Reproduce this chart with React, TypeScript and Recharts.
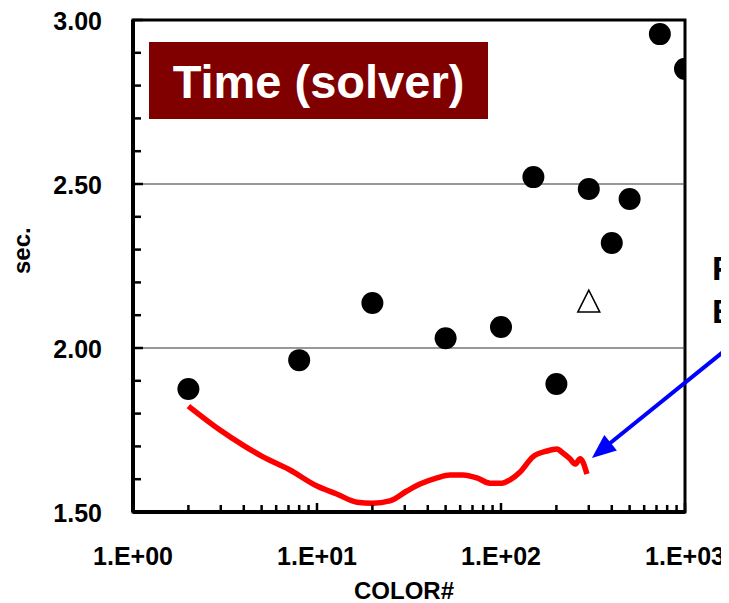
import React from "react";
import {
  ComposedChart,
  Scatter,
  Line,
  XAxis,
  YAxis,
  ReferenceLine,
  ReferenceArea,
} from "recharts";

const FONT = '"Liberation Sans", Arial, sans-serif';

// measured points (black circles)
const circleX = [2, 8, 20, 50, 100, 150, 200, 300, 400, 500, 730, 1000];
const circleY = [1.875, 1.963, 2.137, 2.03, 2.064, 2.521, 1.89, 2.485, 2.32, 2.454, 2.957, 2.851];

// open triangle
const triX = [300];
const triY = [2.14];

// red curve
const curveX = [2, 2.97, 3.96, 5.09, 7.13, 10, 12.8, 16.5, 20, 24.9, 30.8, 36.3, 44.9, 52.8, 62.1, 74, 87, 101, 112, 127, 149, 178, 201, 217, 237, 253, 269, 279, 293];
const curveY = [1.823, 1.75, 1.704, 1.668, 1.628, 1.579, 1.555, 1.53, 1.527, 1.534, 1.564, 1.585, 1.604, 1.613, 1.613, 1.604, 1.588, 1.588, 1.598, 1.622, 1.668, 1.686, 1.692, 1.68, 1.662, 1.646, 1.662, 1.652, 1.616];

// blue arrow: start (off the right edge) -> tip
const arrowX = [2558, 312];
const arrowY = [2.079, 1.665];

const yTicks = [1.5, 1.6, 1.7, 1.8, 1.9, 2.0, 2.1, 2.2, 2.3, 2.4, 2.5, 2.6, 2.7, 2.8, 2.9, 3.0];
const xTicks = [1, 2, 3, 4, 5, 6, 7, 8, 9, 10, 20, 30, 40, 50, 60, 70, 80, 90, 100, 200, 300, 400, 500, 600, 700, 800, 900, 1000];
const xTickLabels: Record<number, string> = { 1: "1.E+00", 10: "1.E+01", 100: "1.E+02", 1000: "1.E+03" };

const circles = circleX.map((x, i) => ({ x, y: circleY[i] }));
const triangles = triX.map((x, i) => ({ x, y: triY[i] }));
const curve = curveX.map((x, i) => ({ x, y: curveY[i] }));

// ticks point inward, labels only on the 0.5 steps
const YTick = (props: any) => {
  const { x, y, payload } = props;
  const v = payload.value;
  const major = Math.abs(v * 2 - Math.round(v * 2)) < 1e-6;
  return (
    <g>
      <line x1={x} y1={y} x2={x + (major ? 10 : 8)} y2={y} stroke="#000" strokeWidth={2.5} />
      {major && (
        <text x={x - 31} y={y + 10} textAnchor="end" fontFamily={FONT} fontWeight="bold" fontSize={25} fill="#000">
          {v.toFixed(2)}
        </text>
      )}
    </g>
  );
};

const XTick = (props: any) => {
  const { x, y, payload } = props;
  const label = xTickLabels[payload.value];
  const h = label ? 9 : 7;
  return (
    <g>
      <rect x={x - 1.25} y={y - h} width={2.5} height={h} fill="#000" />
      {label && (
        <text x={x} y={y + 53} textAnchor="middle" fontFamily={FONT} fontWeight="bold" fontSize={25} fill="#000">
          {label}
        </text>
      )}
    </g>
  );
};

const Dot = (p: any) => <circle cx={p.cx} cy={p.cy} r={11} fill="#000" />;

const Tri = (p: any) => (
  <polygon
    points={`${p.cx},${p.cy - 12} ${p.cx - 11},${p.cy + 10} ${p.cx + 11},${p.cy + 10}`}
    fill="#fff"
    stroke="#000"
    strokeWidth={1.5}
  />
);

const Arrow = (p: any) => {
  const { x1, y1, x2, y2 } = p;
  const dx = x2 - x1;
  const dy = y2 - y1;
  const len = Math.sqrt(dx * dx + dy * dy);
  const ux = dx / len;
  const uy = dy / len;
  const head = 24;
  const half = 10;
  const bx = x2 - ux * head;
  const by = y2 - uy * head;
  return (
    <g>
      <line x1={x1} y1={y1} x2={bx + ux * 4} y2={by + uy * 4} stroke="#0000ff" strokeWidth={4} />
      <polygon
        points={`${x2},${y2} ${bx - uy * half},${by + ux * half} ${bx + uy * half},${by - ux * half}`}
        fill="#0000ff"
      />
    </g>
  );
};

export default function App() {
  return (
    <div style={{ position: "relative", width: 721, height: 595 }}>
      <ComposedChart width={721} height={595} margin={{ top: 12, right: 44, bottom: 0, left: 0 }}>
        <ReferenceLine y={2} stroke="#333" strokeWidth={1.2} />
        <ReferenceLine y={2.5} stroke="#333" strokeWidth={1.2} />
        <ReferenceArea x1={1} x2={1000} y1={1.5} y2={3} fill="none" stroke="#000" strokeWidth={3} />
        <XAxis
          dataKey="x"
          type="number"
          scale="log"
          domain={[1, 1000]}
          ticks={xTicks}
          interval={0}
          allowDataOverflow
          height={91}
          tickSize={0}
          tickMargin={0}
          tick={<XTick />}
          tickLine={false}
          axisLine={{ stroke: "#000", strokeWidth: 4 }}
          label={{
            value: "COLOR#",
            position: "insideBottom",
            offset: 4,
            dx: -5,
            fontFamily: FONT,
            fontWeight: "bold",
            fontSize: 24,
            fill: "#000",
          }}
        />
        <YAxis
          type="number"
          domain={[1.5, 3]}
          ticks={yTicks}
          interval={0}
          allowDataOverflow
          width={125}
          tickSize={0}
          tickMargin={0}
          tick={<YTick />}
          tickLine={false}
          axisLine={{ stroke: "#000", strokeWidth: 4 }}
          label={{
            value: "sec.",
            angle: -90,
            position: "insideLeft",
            offset: 13,
            dy: 8,
            fontFamily: FONT,
            fontWeight: "bold",
            fontSize: 24,
            fill: "#000",
          }}
        />
        <Line
          data={curve}
          dataKey="y"
          type="monotone"
          stroke="#ff0000"
          strokeWidth={5.5}
          dot={false}
          isAnimationActive={false}
        />
        <Scatter data={circles} dataKey="y" shape={Dot} isAnimationActive={false} />
        <Scatter data={triangles} dataKey="y" shape={Tri} isAnimationActive={false} />
        <ReferenceLine
          segment={[
            { x: arrowX[0], y: arrowY[0] },
            { x: arrowX[1], y: arrowY[1] },
          ]}
          ifOverflow="visible"
          shape={Arrow}
        />
      </ComposedChart>
      <svg width={721} height={595} style={{ position: "absolute", left: 0, top: 0, pointerEvents: "none" }}>
        <rect x={141} y={34} width={339} height={77} fill="#800000" />
        <text x={310.5} y={90} textAnchor="middle" fontFamily={FONT} fontWeight="bold" fontSize={47} fill="#fff">
          Time (solver)
        </text>
        <text x={704} y={272} fontFamily={FONT} fontWeight="bold" fontSize={34} fill="#000">
          F
        </text>
        <text x={704} y={315} fontFamily={FONT} fontWeight="bold" fontSize={34} fill="#000">
          B
        </text>
      </svg>
    </div>
  );
}
